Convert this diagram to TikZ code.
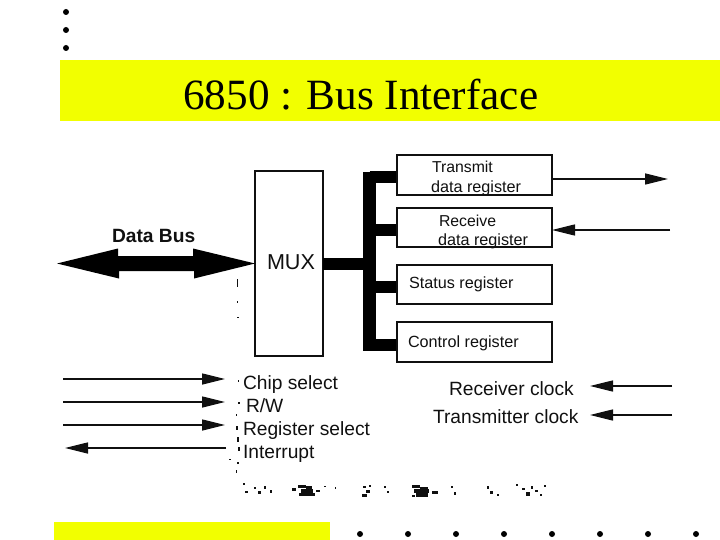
\documentclass[tikz,border=0pt]{standalone}
\usepackage{fontspec}
\setmainfont{Liberation Serif}
\setsansfont{Liberation Sans}
\usetikzlibrary{arrows.meta}
\definecolor{slideyellow}{HTML}{F2FF00}
\definecolor{ink}{HTML}{101010}
\tikzset{
  band/.style={fill=slideyellow,draw=none},
  bullet/.style={fill=black,draw=none},
  box/.style={draw=ink,line width=1.4pt,fill=white,inner sep=0pt,outer sep=0pt},
  lbl/.style={anchor=base west,inner sep=0pt,outer sep=0pt,text=ink,font=\sffamily\fontsize{16.2}{18}\selectfont},
  biglbl/.style={lbl,font=\sffamily\fontsize{19.2}{22}\selectfont},
  sig/.style={draw=ink,line width=1.3pt,-{Triangle[length=23pt,width=11pt]}},
  busline/.style={draw=black,line width=12pt},
  fatarrow/.style={fill=black,draw=none},
  speck/.style={fill=ink,draw=none}
}
\begin{document}
\begin{tikzpicture}[x=1pt,y=-1pt]
\useasboundingbox (0,0) rectangle (720,540);
% yellow bands
\fill[band] (60,60) rectangle (720,121);
\fill[band] (54,522) rectangle (330,540);
% bullets
\foreach \y in {12,30,48} \fill[bullet] (66,\y) circle (3pt);
\foreach \x in {360,408,456,504,552,600,648,696} \fill[bullet] (\x,534) circle (3pt);
% title
\node[anchor=base west,inner sep=0pt,text=black,font=\rmfamily\fontsize{43.2}{48}\selectfont] (title) at (183,110) {6850 : Bus Interface};
% boxes
\node[box,minimum width=68pt,minimum height=185pt] (mux) at (289,263.5) {};
\node[box,minimum width=155pt,minimum height=40pt] (tx) at (474.5,175) {};
\node[box,minimum width=155pt,minimum height=39pt] (rx) at (474.5,227.5) {};
\node[box,minimum width=155pt,minimum height=39pt] (st) at (474.5,284.5) {};
\node[box,minimum width=155pt,minimum height=40pt] (ct) at (474.5,342) {};
% coordinates
\coordinate (bustop) at (369.5,172);
\coordinate (busbot) at (369.5,351);
\coordinate (busmid) at (369.5,264);
\coordinate (txstub) at (369.5,177.5);
\coordinate (rxstub) at (369.5,230);
\coordinate (ststub) at (369.5,287);
\coordinate (ctstub) at (369.5,345);
\coordinate (dbleft) at (57,263.5);
\coordinate (txout) at (668,179);
\coordinate (rxin) at (670,230);
% bus
\draw[busline,line width=13pt] (bustop) -- (busbot);
\draw[busline] (mux.east |- busmid) -- (busmid);
\draw[busline] (txstub) -- (tx.west |- txstub);
\draw[busline] (rxstub) -- (rx.west |- rxstub);
\draw[busline] (ststub) -- (st.west |- ststub);
\draw[busline] (ctstub) -- (ct.west |- ctstub);
% redraw box edges over the bus ends
\draw[box,fill=none] (tx.south west) rectangle (tx.north east);
\draw[box,fill=none] (rx.south west) rectangle (rx.north east);
\draw[box,fill=none] (st.south west) rectangle (st.north east);
\draw[box,fill=none] (ct.south west) rectangle (ct.north east);
% data bus: a solid double-headed arrow from the free end to the MUX
\path[fatarrow] (dbleft) -- ++(61,-15) -- ++(0,7.5) -- ++(75,0) -- ++(0,-7.5) -- (mux.west)
  -- ++(-61,15) -- ++(0,-7.5) -- ++(-75,0) -- ++(0,7.5) -- cycle;
% register signals
\draw[sig] (tx.east |- txout) -- (txout);
\draw[sig] (rxin) -- (rx.east |- rxin);
% left control signals
\coordinate (cs0) at (63,379); \coordinate (cs1) at (225,379);
\coordinate (rw0) at (63,402); \coordinate (rw1) at (225,402);
\coordinate (rs0) at (63,425); \coordinate (rs1) at (225,425);
\coordinate (in0) at (226,448); \coordinate (in1) at (65,448);
\draw[sig] (cs0) -- (cs1);
\draw[sig] (rw0) -- (rw1);
\draw[sig] (rs0) -- (rs1);
\draw[sig] (in0) -- (in1);
% clocks
\coordinate (rc0) at (672,386); \coordinate (rc1) at (590,386);
\coordinate (tc0) at (672,415); \coordinate (tc1) at (590,415);
\draw[sig] (rc0) -- (rc1);
\draw[sig] (tc0) -- (tc1);
% labels
\node[lbl,font=\sffamily\bfseries\fontsize{19.2}{22}\selectfont] (ldb) at (112,243) {Data Bus};
\node[lbl,font=\sffamily\fontsize{21.6}{24}\selectfont] (lmux) at (267,269) {MUX};
\node[lbl,font=\sffamily\fontsize{15.8}{18}\selectfont] (ltx1) at (432,173) {Transmit};
\node[lbl] (ltx2) at (431,193) {data register};
\node[lbl,font=\sffamily\fontsize{15.8}{18}\selectfont] (lrx1) at (439,226) {Receive};
\node[lbl] (lrx2) at (438,245) {data register};
\node[lbl] (lst) at (409,288) {Status register};
\node[lbl] (lct) at (408,347) {Control register};
\node[biglbl] (lcs) at (243,389) {Chip select};
\node[biglbl] (lrw) at (246,412) {R/W};
\node[biglbl] (lrs) at (243,435) {Register select};
\node[biglbl] (lin) at (243,458) {Interrupt};
\node[biglbl] (lrc) at (449,395) {Receiver clock};
\node[biglbl] (ltc) at (433,423) {Transmitter clock};
% scan specks
\foreach \x/\y/\w/\h in {
 237/279/1/8, 237/301/1/2, 237/317/2/1,
 238/380/1/2, 238/402/2/2, 236/414/1/2, 236/426/2/4, 237/437/2/5, 238/447/2/4, 229/459/2/1, 237/462/2/2, 236/470/1/3,
 243/483/2/2, 245/491/3/2, 254/487/2/2, 258/491/3/3, 264/486/2/3, 270/490/2/3,
 292/488/4/3, 298/485/8/3, 301/489/12/4, 299/493/16/3, 306/486/6/8, 316/490/4/2, 324/486/2/1,
 335/487/1/2, 363/486/3/2, 366/490/4/3, 362/494/5/3, 369/485/2/2,
 384/486/2/2, 387/491/2/2,
 412/485/8/3, 414/489/15/4, 416/493/12/4, 420/487/8/6, 432/491/6/3, 412/495/3/2, 451/486/2/2, 454/492/2/3,
 487/486/2/3, 490/491/3/3, 497/494/2/2,
 516/484/2/2, 522/488/3/2, 526/492/4/4, 531/486/2/3, 535/490/3/2, 544/485/2/2, 540/494/2/2}
  \fill[speck] (\x,\y) rectangle ++(\w,\h);
\end{tikzpicture}
\end{document}
